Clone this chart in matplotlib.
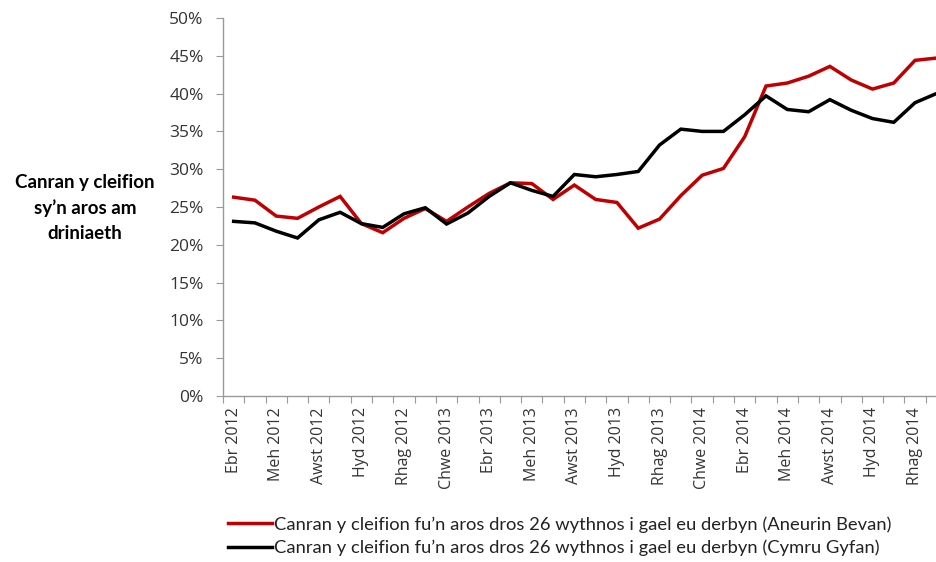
import matplotlib
matplotlib.use("Agg")
import matplotlib.pyplot as plt
from matplotlib.ticker import FixedLocator, PercentFormatter

months = ["Ebr 2012", "Mai 2012", "Meh 2012", "Gorff 2012", "Awst 2012", "Medi 2012",
          "Hyd 2012", "Tach 2012", "Rhag 2012", "Ion 2013", "Chwe 2013", "Maw 2013",
          "Ebr 2013", "Mai 2013", "Meh 2013", "Gorff 2013", "Awst 2013", "Medi 2013",
          "Hyd 2013", "Tach 2013", "Rhag 2013", "Ion 2014", "Chwe 2014", "Maw 2014",
          "Ebr 2014", "Mai 2014", "Meh 2014", "Gorff 2014", "Awst 2014", "Medi 2014",
          "Hyd 2014", "Tach 2014", "Rhag 2014", "Ion 2015"]

aneurin_bevan = [26.3, 25.9, 23.8, 23.5, 25.0, 26.4, 22.8, 21.6, 23.5, 24.8,
                 23.1, 25.0, 26.8, 28.2, 28.1, 26.0, 27.9, 26.0, 25.6, 22.2,
                 23.4, 26.5, 29.2, 30.1, 34.3, 41.0, 41.4, 42.3, 43.6, 41.8,
                 40.6, 41.4, 44.4, 44.7]

cymru_gyfan = [23.1, 22.9, 21.8, 20.9, 23.3, 24.3, 22.8, 22.3, 24.1, 24.9,
               22.75, 24.2, 26.4, 28.2, 27.2, 26.4, 29.3, 29.0, 29.3, 29.7,
               33.2, 35.3, 35.0, 35.0, 37.2, 39.7, 37.9, 37.6, 39.2, 37.8,
               36.7, 36.2, 38.8, 40.0]

label_aneurin = "Canran y cleifion fu\u2019n aros dros 26 wythnos i gael eu derbyn (Aneurin Bevan)"
label_cymru = "Canran y cleifion fu\u2019n aros dros 26 wythnos i gael eu derbyn (Cymru Gyfan)"
y_title = "Canran y cleifion\nsy\u2019n aros am\ndriniaeth"

W, H = 936, 562
fig = plt.figure(figsize=(W / 100, H / 100), dpi=100)
ax = fig.add_axes([223 / W, (H - 396) / H, 724 / W, 378 / H])

x = list(range(len(months)))
l1, = ax.plot(x, aneurin_bevan, color="#C00000", lw=2.5, solid_joinstyle="miter")
l2, = ax.plot(x, cymru_gyfan, color="#000000", lw=2.5, solid_joinstyle="miter")

ax.set_xlim(-0.5, len(months) - 0.5)
ax.set_ylim(0, 50)

grey = "#9a9a9a"
for s in ["top", "right"]:
    ax.spines[s].set_visible(False)
for s in ["left", "bottom"]:
    ax.spines[s].set_color(grey)
    ax.spines[s].set_linewidth(1.0)

ax.set_yticks(range(0, 51, 5))
ax.yaxis.set_major_formatter(PercentFormatter(decimals=0))
ax.tick_params(axis="y", length=5, color=grey, pad=9, labelsize=12.5,
               labelcolor="#333333")
for t in ax.get_yticklabels():
    t.set_fontfamily("Open Sans")

# boundary ticks (major, no label) and label positions (minor, no tick)
ax.xaxis.set_major_locator(FixedLocator([i - 0.5 for i in range(len(months) + 1)]))
ax.xaxis.set_major_formatter(plt.NullFormatter())
label_pos = list(range(0, len(months), 2))
ax.xaxis.set_minor_locator(FixedLocator(label_pos))
ax.set_xticklabels([months[i] for i in label_pos], minor=True, rotation=90,
                   fontfamily="Open Sans", fontsize=11.5, color="#333333")
ax.tick_params(axis="x", which="major", length=5, color=grey)
ax.tick_params(axis="x", which="minor", length=0, pad=8)

fig.text(85 / W, 1 - 208 / H, y_title, ha="center", va="center",
         fontsize=13.5, fontweight="bold", fontfamily="Lato", linespacing=1.55)

leg = fig.legend([l1, l2], [label_aneurin, label_cymru], loc="upper left",
                 bbox_to_anchor=(228 / W, 1 - 516 / H), frameon=False,
                 borderpad=0, borderaxespad=0, handlelength=2.4, handletextpad=0.12,
                 labelspacing=0.4, prop={"family": "Lato", "size": 13.2})
for t in leg.get_texts():
    t.set_color("#222222")

fig.savefig("out.png", dpi=100)
